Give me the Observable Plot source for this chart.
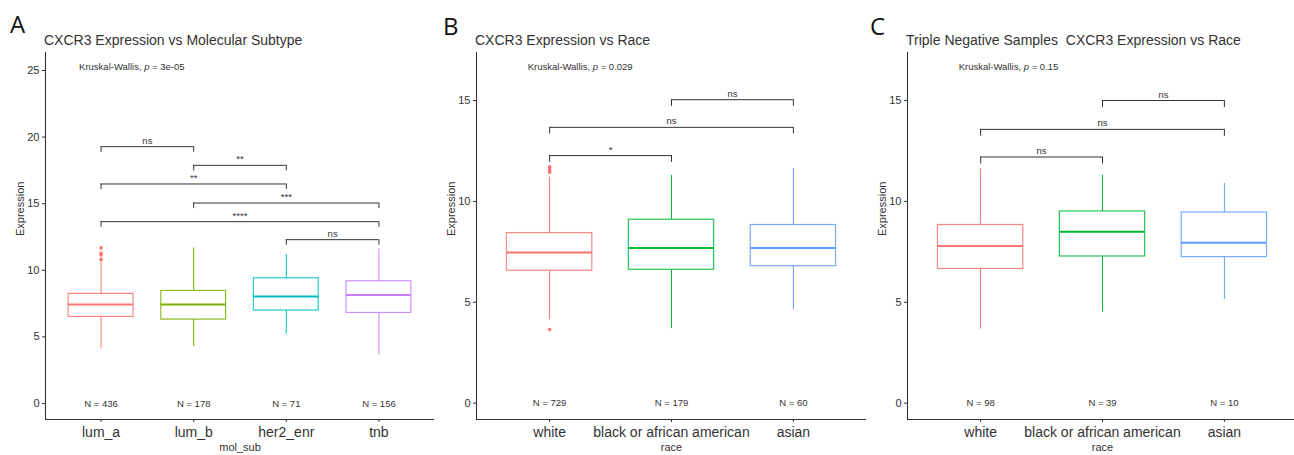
<!DOCTYPE html>
<html><head><meta charset="utf-8">
<script src="https://cdn.jsdelivr.net/npm/d3@7"></script>
<script src="https://cdn.jsdelivr.net/npm/@observablehq/plot@0.6"></script>
<style>
body{margin:0;background:#fff;}
#root{position:relative;width:1294px;height:455px;overflow:hidden;background:#fff;font-family:"Liberation Sans",Arial,sans-serif;}
.letter{position:absolute;font-family:"Open Sans",sans-serif;font-size:24px;line-height:24px;color:#111;}
.title{position:absolute;font-size:14px;line-height:16px;color:#333;white-space:pre;}
.plot{position:absolute;top:46px;}
</style></head>
<body><div id="root"></div>
<script>
// ---------- Panel A: molecular subtype ----------
const catsA = ["lum_a", "lum_b", "her2_enr", "tnb"];
const colorsA = ["#F8766D", "#7CAE00", "#00BFC4", "#C77CFF"];
const q1A = [6.5, 6.3, 6.98, 6.8];
const medA = [7.43, 7.43, 8.03, 8.15];
const q3A = [8.23, 8.45, 9.4, 9.18];
const loA = [4.15, 4.27, 5.2, 3.65];
const hiA = [10.72, 11.68, 11.18, 11.6];
const nA = [436, 178, 71, 156];
const outCatA = ["lum_a", "lum_a", "lum_a", "lum_a"];
const outValA = [10.82, 11.15, 11.28, 11.68];
const brFromA = ["lum_a", "lum_b", "lum_a", "lum_b", "lum_a", "her2_enr"];
const brToA = ["lum_b", "her2_enr", "her2_enr", "tnb", "tnb", "tnb"];
const brYA = [19.28, 17.88, 16.48, 15.05, 13.65, 12.3];
const brLabA = ["ns", "**", "**", "***", "****", "ns"];
const pA = "3e-05";
const kwYA = 25.23;
const yTicksA = [0, 5, 10, 15, 20, 25];

// ---------- Panel B: race ----------
const catsRace = ["white", "black or african american", "asian"];
const colorsRace = ["#F8766D", "#00BA38", "#619CFF"];
const q1B = [6.56, 6.61, 6.79];
const medB = [7.47, 7.69, 7.69];
const q3B = [8.43, 9.09, 8.83];
const loB = [4.13, 3.69, 4.63];
const hiB = [11.2, 11.29, 11.62];
const nB = [729, 179, 60];
const outCatB = ["white", "white", "white", "white", "white"];
const outValB = [11.45, 11.55, 11.65, 11.72, 3.65];
const brFromB = ["black or african american", "white", "white"];
const brToB = ["asian", "asian", "black or african american"];
const brYB = [15.04, 13.67, 12.27];
const brLabB = ["ns", "ns", "*"];
const pB = "0.029";
const kwYB = 16.66;

// ---------- Panel C: triple negative, race ----------
const q1C = [6.65, 7.27, 7.24];
const medC = [7.79, 8.5, 7.95];
const q3C = [8.83, 9.5, 9.45];
const loC = [3.67, 4.51, 5.13];
const hiC = [11.62, 11.29, 10.89];
const nC = [98, 39, 10];
const outCatC = [];
const outValC = [];
const brFromC = ["black or african american", "white", "white"];
const brToC = ["asian", "asian", "black or african american"];
const brYC = [15.0, 13.57, 12.2];
const brLabC = ["ns", "ns", "ns"];
const pC = "0.15";
const kwYC = 16.66;
const yTicksRace = [0, 5, 10, 15];
const nLabelY = 0;

function panel(o) {
  const {cats, colors, q1, med, q3, lo, hi, n, outCat, outVal, brFrom, brTo, brY, brLab,
         pval, kwY, yDomain, yTicks, tip, xLabel, width, marginLeft} = o;
  const pos = c => cats.indexOf(c) + 1;
  const boxes = cats.map((c, i) => ({cat: c, x: i + 1, q1: q1[i], med: med[i], q3: q3[i], lo: lo[i], hi: hi[i], n: "N = " + n[i]}));
  const outs = outCat.map((c, i) => ({cat: c, x: pos(c), y: outVal[i]}));
  const br = brFrom.map((f, i) => ({x1: pos(f), x2: pos(brTo[i]), y: brY[i], label: brLab[i]}));
  const ends = br.flatMap(b => [{x: b.x1, y: b.y}, {x: b.x2, y: b.y}]);
  const half = 0.35;
  const xDomain = [0.4, cats.length + 0.6];
  const col = {value: "cat", scale: "color"};
  const svg = Plot.plot({
    width, height: 409, marginLeft, marginRight: 0, marginTop: 6, marginBottom: 36,
    style: {fontFamily: '"Liberation Sans", Arial, sans-serif', background: "transparent", color: "#333", overflow: "visible"},
    x: {domain: xDomain},
    y: {domain: yDomain},
    color: {type: "ordinal", domain: cats, range: colors},
    marks: [
      Plot.ruleX(boxes, {x: "x", y1: "lo", y2: "hi", stroke: col, strokeWidth: 1}),
      Plot.rect(boxes, {x1: d => d.x - half, x2: d => d.x + half, y1: "q1", y2: "q3", fill: "white", stroke: col, strokeWidth: 1.2, strokeOpacity: 0.85}),
      Plot.ruleY(boxes, {x1: d => d.x - half, x2: d => d.x + half, y: "med", stroke: col, strokeWidth: 2}),
      Plot.dot(outs, {x: "x", y: "y", fill: col, r: 1.8}),
      Plot.ruleY(br, {x1: "x1", x2: "x2", y: "y", stroke: "#333", strokeWidth: 1}),
      Plot.ruleX(ends, {x: "x", y1: "y", y2: d => d.y - tip, stroke: "#333", strokeWidth: 1}),
      Plot.text(br, {x: d => (d.x1 + d.x2) / 2, y: "y", text: "label", fontSize: 9.5, dy: -6}),
      Plot.text(boxes, {x: "x", y: () => nLabelY, text: "n", fontSize: 9.5}),
      Plot.text([pval], {x: () => 1, y: () => kwY, text: d => "Kruskal-Wallis, p = " + d, textAnchor: "start", dx: -22, fontSize: 9.5}),
      Plot.ruleX([xDomain[0]], {stroke: "#333", strokeWidth: 1.1}),
      Plot.ruleY([yDomain[0]], {stroke: "#333", strokeWidth: 1.1}),
      Plot.axisY({ticks: yTicks, tickSize: 3, tickPadding: 3, fontSize: 11, label: null}),
      Plot.axisX({ticks: cats.map((c, i) => i + 1), tickFormat: i => cats[i - 1], tickSize: 3, tickPadding: 5, fontSize: 14, label: null}),
      Plot.text([xLabel], {frameAnchor: "bottom", dy: 31, fontSize: 11}),
      Plot.text(["Expression"], {frameAnchor: "left", rotate: -90, dx: -25, fontSize: 11})
    ]
  });
  svg.style.maxWidth = "none";
  svg.style.height = "409px";
  svg.querySelectorAll("text").forEach(t => {
    const s = t.textContent;
    const pre = "Kruskal-Wallis, p";
    if (s.startsWith(pre)) {
      const rest = s.slice(pre.length);
      t.textContent = "";
      const ns = "http://www.w3.org/2000/svg";
      const a = document.createElementNS(ns, "tspan"); a.textContent = "Kruskal-Wallis, ";
      const b = document.createElementNS(ns, "tspan"); b.textContent = "p"; b.setAttribute("font-style", "italic");
      const c = document.createElementNS(ns, "tspan"); c.textContent = rest;
      t.append(a, b, c);
    }
  });
  return svg;
}

const root = document.getElementById("root");
function addDiv(cls, text, left, top) {
  const d = document.createElement("div");
  d.className = cls; d.textContent = text;
  d.style.left = left + "px"; d.style.top = top + "px";
  root.appendChild(d);
  return d;
}

const specs = [
  {letter: "A", letterLeft: 10, letterTop: 12, title: "CXCR3 Expression vs Molecular Subtype", titleLeft: 44, left: 0,
   cfg: {cats: catsA, colors: colorsA, q1: q1A, med: medA, q3: q3A, lo: loA, hi: hiA, n: nA, outCat: outCatA, outVal: outValA,
         brFrom: brFromA, brTo: brToA, brY: brYA, brLab: brLabA, pval: pA, kwY: kwYA, yDomain: [-1.2, 26.35], yTicks: yTicksA,
         tip: 0.42, xLabel: "mol_sub", width: 434, marginLeft: 45}},
  {letter: "B", letterLeft: 443, letterTop: 14, title: "CXCR3 Expression vs Race", titleLeft: 475, left: 430,
   cfg: {cats: catsRace, colors: colorsRace, q1: q1B, med: medB, q3: q3B, lo: loB, hi: hiB, n: nB, outCat: outCatB, outVal: outValB,
         brFrom: brFromB, brTo: brToB, brY: brYB, brLab: brLabB, pval: pB, kwY: kwYB, yDomain: [-0.81, 17.38], yTicks: yTicksRace,
         tip: 0.33, xLabel: "race", width: 436, marginLeft: 46}},
  {letter: "C", letterLeft: 870, letterTop: 14, title: "Triple Negative Samples  CXCR3 Expression vs Race", titleLeft: 906, left: 860,
   cfg: {cats: catsRace, colors: colorsRace, q1: q1C, med: medC, q3: q3C, lo: loC, hi: hiC, n: nC, outCat: outCatC, outVal: outValC,
         brFrom: brFromC, brTo: brToC, brY: brYC, brLab: brLabC, pval: pC, kwY: kwYC, yDomain: [-0.81, 17.38], yTicks: yTicksRace,
         tip: 0.35, xLabel: "race", width: 437, marginLeft: 47}}
];

for (const s of specs) {
  const holder = document.createElement("div");
  holder.className = "plot";
  holder.style.left = s.left + "px";
  holder.style.width = s.cfg.width + "px";
  holder.appendChild(panel(s.cfg));
  root.appendChild(holder);
}
for (const s of specs) {
  addDiv("letter", s.letter, s.letterLeft, s.letterTop);
  addDiv("title", s.title, s.titleLeft, 32);
}
</script></body></html>
